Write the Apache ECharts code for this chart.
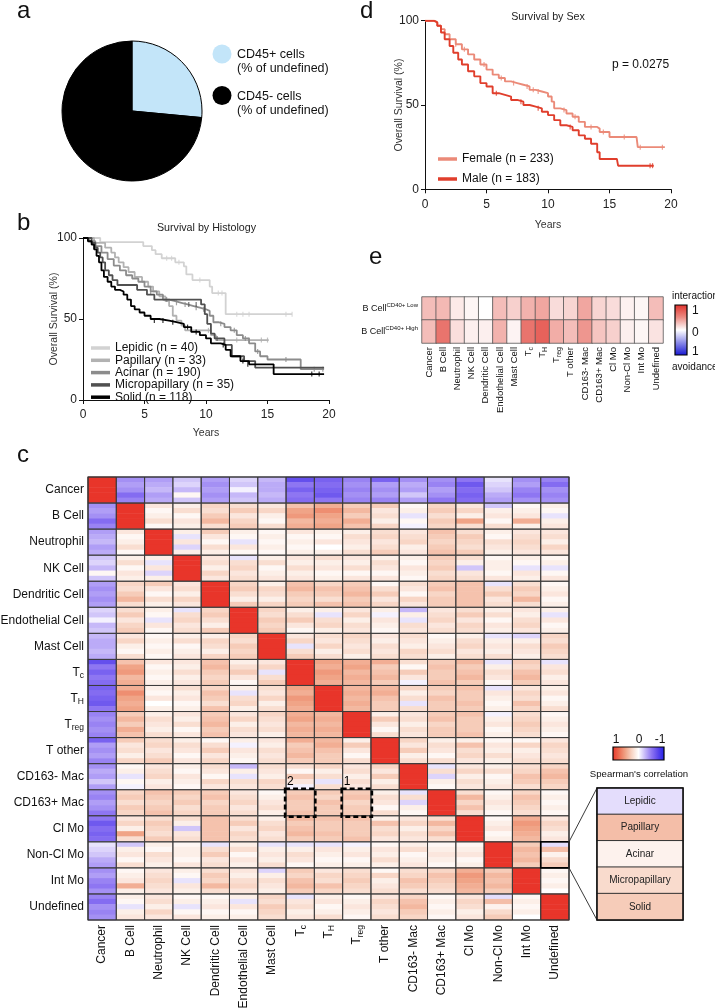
<!DOCTYPE html>
<html><head><meta charset="utf-8">
<script src="https://cdn.jsdelivr.net/npm/echarts@6/dist/echarts.min.js"></script>
<style>html,body{margin:0;padding:0;background:#fff}#main{width:715px;height:1008px}</style>
</head><body><div id="main"></div>
<script>
// ---------------- DATA ----------------
const pieNames = ['CD45+ cells', 'CD45- cells'];
const pieValues = [26.5, 73.5];
const pieColors = ['#c3e5f9', '#000000'];

const histLabels = ['Lepidic (n = 40)', 'Papillary (n = 33)', 'Acinar (n = 190)', 'Micropapillary (n = 35)', 'Solid (n = 118)'];
const histColors = ['#d2d2d2', '#b2b2b2', '#8c8c8c', '#505050', '#000000'];
const kmLepidic = [[0,100],[1.4,97.5],[4.9,95],[5.6,92.5],[5.9,90],[6.4,87.5],[7.5,85],[8.2,82.5],[8.4,77.5],[8.9,74],[10.3,70],[10.5,66],[11.6,53],[17,53]];
const kmPapillary = [[0,100],[0.9,97],[1.8,94],[2.3,91],[2.6,88],[2.9,85],[3.3,82],[3.7,79],[4.2,76],[4.8,73],[5.3,70],[5.7,67],[6.2,64],[6.7,61],[7.0,58],[7.3,52],[7.6,49],[8.0,46],[8.3,43],[10.4,40],[10.8,37],[15.1,37]];
const kmAcinar = [[0,100],[0.5,98],[1,95],[1.5,91],[2,87],[2.5,83],[3,80],[3.5,77],[4,75],[4.5,73],[5,70],[5.5,67],[6,65],[6.5,62],[7,61],[7.5,60],[8,59],[8.5,58],[9,57],[9.5,56],[10,55],[10.3,52],[10.6,48],[11,47],[11.5,45],[12,43],[12.5,40],[13,38],[13.5,35],[14,30],[14.4,27],[15,25],[17.4,25],[17.7,19],[19.6,19]];
const kmMicropap = [[0,100],[0.7,97],[1,94],[1.2,91],[1.4,88],[1.6,85],[1.8,80],[2.1,77],[2.4,74],[2.8,71],[4.4,68],[5.2,65],[5.8,62],[9.6,59],[9.9,53],[10.1,47],[10.4,41],[10.7,38],[11.5,34],[12.1,27],[13.1,24],[14,20],[19.6,20]];
const kmSolid = [[0,100],[0.4,98],[0.7,96],[0.9,93],[1.1,89],[1.3,85],[1.5,80],[1.7,76],[2,73],[2.3,70],[2.6,68],[3,67],[3.3,65],[3.6,62],[3.9,58],[4.2,56],[4.6,54],[5,52],[5.5,50],[6.2,49],[7,48],[7.6,47],[8.2,45],[8.8,42],[9.5,40],[10,38],[10.4,35],[11.2,34],[11.6,31],[12,27],[12.8,24],[13.5,22],[15.5,16],[19.6,16]];
const cenLepidic = [[6.8,87.5],[7.2,87.5],[7.8,85],[9.5,74],[11,66],[11.3,66],[12.5,53],[13,53],[13.5,53],[16.5,53],[17,53]];
const cenPapillary = [[10.2,43],[12.5,37],[13.5,37],[14.5,37],[15,37]];
const cenAcinar = [[5.5,67],[6.8,62],[7.6,60],[8.3,59],[9.2,57],[9.8,56],[11.2,47],[12.3,43],[13.2,38],[14.2,30],[16.5,25],[18.8,19],[19.5,19]];
const cenMicropap = [[8.6,59],[9.2,59],[10.9,38]];
const cenSolid = [[5.8,49],[6.5,49],[7.3,48],[8.5,45],[9.2,42],[11.4,34],[13,24],[13.4,22],[18.6,16],[19.2,16]];

const sexLabels = ['Female (n = 233)', 'Male (n = 183)'];
const sexColors = ['#eb8a78', '#e03e2c'];
const kmFemale = [[0,100],[0.8,99],[1,97],[1.3,95],[1.6,92],[2,89],[2.5,86],[3,83],[3.5,80],[4,77],[4.5,74],[5,71],[5.5,68],[6,66],[6.5,64],[7,63],[7.5,62],[8,61],[8.5,59],[9,58],[9.5,57],[10,55],[10.3,52],[10.5,48],[11,47],[11.5,45],[12,43],[12.5,40],[13,37],[14,36],[14.2,34],[15,31],[17.2,31],[17.3,25],[19.5,25]];
const kmMale = [[0,100],[0.7,99],[1,97],[1.3,93],[1.6,89],[2,85],[2.3,81],[2.7,77],[3,74],[3.5,70],[4,67],[4.5,63],[5,61],[5.5,57],[6,56],[6.5,55],[7,53],[7.5,52],[8,50],[8.5,49],[9,48],[9.5,46],[10,44],[10.5,41],[11,38],[11.5,37],[12,35],[12.5,32],[13,30],[13.5,27],[14,22],[14.2,18],[15.6,18],[15.7,14],[18.6,14]];
const cenFemale = [[2.5,86],[3.2,83],[4.8,74],[6.2,66],[7.2,63],[8.3,61],[8.8,59],[9.2,58],[11.3,47],[12.2,43],[13.5,37],[14.5,34],[16.2,31],[17.5,25],[19.3,25]];
const cenMale = [[5.8,57],[7.8,52],[9.2,48],[11.8,37],[18.3,14],[18.5,14]];
const pValueText = 'p = 0.0275';

const cellTypes = ['Cancer','B Cell','Neutrophil','NK Cell','Dendritic Cell','Endothelial Cell','Mast Cell','Tc','TH','Treg','T other','CD163- Mac','CD163+ Mac','Cl Mo','Non-Cl Mo','Int Mo','Undefined'];
const histologies = ['Lepidic','Papillary','Acinar','Micropapillary','Solid'];

// Panel e (interaction scores)
const eRows = ['Low', 'High'];
const interactionLow  = [0.28,0.30,0.09,0.04,0.0,0.28,0.20,0.33,0.38,0.15,0.18,0.38,0.18,0.15,0.06,0.04,0.28];
const interactionHigh = [0.28,0.62,0.14,0.07,0.07,0.33,0.05,0.62,0.72,0.35,0.28,0.45,0.25,0.20,0.07,0.04,0.12];

// Panel c: Spearman correlation, lower triangle; each cell = [Lepidic, Papillary, Acinar, Micropapillary, Solid]
const corr_BCell = [[-0.4,-0.35,-0.4,-0.55,-0.45]];
const corr_Neutrophil = [[-0.35,-0.3,-0.25,-0.35,-0.3],[0.15,0.05,0.1,0.2,0.05]];
const corr_NKCell = [[-0.2,-0.15,-0.25,0.05,-0.2],[0.1,0.2,0.05,0.15,0.1],[0.1,-0.1,0.15,-0.15,0.1]];
const corr_Dendritic = [[-0.35,-0.4,-0.35,-0.4,-0.35],[0.25,0.2,0.3,0.4,0.2],[0.3,0.15,0.05,0.2,0.1],[0.15,0.2,0.1,0.25,0.15]];
const corr_Endothelial = [[-0.15,-0.2,-0.05,-0.25,-0.2],[0.2,0.3,0.15,0.25,0.3],[0.1,0.05,-0.1,0.15,0.05],[-0.1,0.2,0.25,0.15,0.2],[0.25,0.3,0.2,0.1,0.3]];
const corr_Mast = [[-0.25,-0.3,-0.3,-0.25,-0.3],[0.15,0.25,0.1,0.05,0.2],[0.05,0.1,0.05,0.1,0.05],[0.1,0.2,0.05,0.1,0.15],[0.1,0.25,0.2,0.1,0.25],[0.25,0.2,0.3,0.25,0.3]];
const corr_Tc = [[-0.7,-0.5,-0.6,-0.5,-0.55],[0.35,0.5,0.55,0.4,0.45],[0.15,0.05,0.1,0.05,0.1],[0.15,0.1,0.2,0.1,0.15],[0.35,0.4,0.3,0.25,0.3],[0.1,0.2,0.3,0.15,0.05],[0.15,0.25,-0.1,0.2,0.3]];
const corr_TH = [[-0.6,-0.55,-0.6,-0.65,-0.5],[0.45,0.6,0.5,0.45,0.5],[0.1,0.05,0.15,0.0,0.1],[0.2,0.1,0.15,0.05,0.1],[0.25,0.35,0.3,0.2,0.35],[0.1,-0.1,0.2,0.25,0.1],[0.2,0.15,0.25,0.1,0.2],[0.5,0.45,0.55,0.5,0.45]];
const corr_Treg = [[-0.45,-0.4,-0.45,-0.4,-0.45],[0.3,0.4,0.3,0.45,0.35],[0.1,0.2,0.15,0.1,0.2],[0.15,0.1,0.2,0.05,0.15],[0.3,0.35,0.4,0.3,0.35],[0.15,0.25,0.1,0.2,0.15],[0.25,0.2,0.15,0.2,0.1],[0.45,0.5,0.4,0.45,0.4],[0.4,0.45,0.4,0.45,0.4]];
const corr_Tother = [[-0.6,-0.35,-0.4,-0.35,-0.45],[0.3,0.15,0.2,0.1,0.25],[0.2,0.25,0.15,0.2,0.3],[0.1,0.2,0.15,0.05,0.15],[0.05,0.2,0.3,0.15,0.25],[0.1,-0.05,0.15,0.1,0.05],[0.15,0.1,0.2,0.15,0.2],[0.45,0.3,0.35,0.4,0.3],[0.4,0.45,0.35,0.3,0.3],[0.1,0.3,0.15,0.05,0.2]];
const corr_CD163neg = [[-0.4,-0.3,-0.35,-0.2,-0.35],[0.05,0.1,-0.1,0.05,-0.05],[0.15,0.2,0.25,0.1,0.15],[0.1,0.05,0.15,0.1,0.05],[0.2,0.15,0.05,0.25,0.15],[-0.25,0.1,-0.1,0.2,0.15],[0.2,0.15,0.1,0.25,0.2],[0.2,0.05,0.3,0.15,-0.05],[0.25,0.1,0.2,-0.1,0.2],[0.15,0.2,0.1,0.2,0.15],[0.25,0.15,0.3,0.1,0.2]];
const corr_CD163pos = [[-0.4,-0.45,-0.35,-0.4,-0.5],[0.25,0.3,0.2,0.3,0.25],[0.35,0.3,0.25,0.3,0.35],[0.3,0.25,0.3,0.2,0.25],[0.3,0.35,0.25,0.3,0.3],[0.15,0.2,0.25,0.15,0.2],[0.05,0.1,0.15,0.2,0.1],[0.3,0.35,0.3,0.3,0.35],[0.3,0.25,0.35,0.3,0.3],[0.3,0.35,0.25,0.3,0.3],[0.1,0.2,0.15,0.05,0.2],[-0.1,0.2,-0.15,0.1,0.05]];
const corr_ClMo = [[-0.5,-0.65,-0.55,-0.6,-0.55],[0.15,0.25,0.1,0.5,0.2],[0.2,0.3,0.25,0.2,0.3],[0.2,0.1,-0.2,0.15,0.2],[0.35,0.35,0.35,0.35,0.35],[0.2,0.3,0.15,0.25,0.2],[0.1,0.2,0.25,0.15,0.2],[0.4,0.3,0.35,0.4,0.3],[0.35,0.3,0.3,0.35,0.3],[0.35,0.3,0.3,0.3,0.35],[0.1,0.35,0.2,0.25,0.15],[0.15,0.25,0.1,0.2,0.15],[0.2,0.4,0.25,0.35,0.2]];
const corr_NonClMo = [[-0.1,-0.15,-0.2,-0.3,-0.35],[-0.2,0.1,0.15,0.05,0.2],[0.1,0.05,0.2,0.15,0.1],[0.05,0.1,0.1,0.05,0.15],[-0.1,0.2,0.3,0.15,0.2],[0.1,0.2,0.05,0.15,0.1],[-0.1,0.1,0.15,0.1,0.2],[-0.1,0.1,0.2,0.15,0.05],[-0.1,0.15,0.1,0.05,0.1],[-0.05,0.1,0.15,0.05,0.1],[0.05,0.15,0.1,0.2,0.1],[0.1,0.2,0.05,0.1,0.15],[0.05,0.1,0.15,0.1,0.05],[0.05,0.1,0.15,0.05,0.1]];
const corr_IntMo = [[-0.4,-0.35,-0.45,-0.5,-0.4],[0.05,0.1,0.15,0.45,0.1],[0.15,0.2,0.25,0.2,0.15],[0.1,0.05,-0.1,0.15,0.1],[0.2,0.3,0.25,0.4,0.2],[0.15,0.1,0.2,0.25,0.15],[-0.15,0.1,0.2,0.15,0.1],[0.3,0.25,0.35,0.4,0.3],[0.15,0.25,0.2,0.35,0.25],[0.2,0.25,0.3,0.25,0.2],[0.05,0.25,0.1,0.15,0.2],[0.2,0.25,0.35,0.3,0.2],[0.25,0.35,0.3,0.25,0.2],[0.45,0.55,0.5,0.45,0.4],[0.3,0.4,0.35,0.4,0.3]];
const corr_Undefined = [[-0.45,-0.55,-0.4,-0.45,-0.4],[0.1,0.05,-0.1,0.1,0.15],[0.15,0.2,0.1,0.25,0.15],[0.05,0.1,-0.1,0.05,0.15],[0.05,0.1,0.15,0.05,0.1],[0.1,-0.1,0.15,0.05,0.1],[0.25,0.2,0.3,0.25,0.2],[-0.1,0.15,0.2,0.1,0.15],[0.1,0.15,0.05,0.1,0.2],[0.05,0.1,0.15,0.1,0.05],[0.15,0.25,0.2,0.15,0.2],[0.25,0.35,0.4,0.3,0.25],[0.05,0.1,0.05,0.1,0.05],[0.15,0.25,0.2,0.1,0.15],[-0.12,0.37,0.08,0.22,0.3],[0.05,0.1,0.05,0.1,0.0]];

const highlightBoxes = [[7, 12], [9, 12]];   // [column, row]
const highlightLabels = ['2', '1'];
const insetCell = [16, 14];                  // [column (Undefined), row (Non-Cl Mo)]

// ---------------- LAYOUT / STYLE ----------------
const FONT = "'Liberation Sans', Arial, Helvetica, sans-serif";
const HM = {left: 88, top: 477, width: 481, height: 443};
const INSET = {left: 597, top: 788, width: 86, height: 132};
const corrColors = ['#1f1fe6','#5a45ec','#8e76f2','#c6b8f8','#ffffff','#f8d6c6','#f0a487','#ec6c50','#e8352a'];
const eColors = ['#1414d2','#8a8ae8','#ffffff','#ec8a82','#e0302a'];

const corrLower = [[], corr_BCell, corr_Neutrophil, corr_NKCell, corr_Dendritic, corr_Endothelial, corr_Mast, corr_Tc, corr_TH, corr_Treg, corr_Tother, corr_CD163neg, corr_CD163pos, corr_ClMo, corr_NonClMo, corr_IntMo, corr_Undefined];
function corrCell(r, c) {
  if (r === c) return [1,1,1,1,1];
  return r > c ? corrLower[r][c] : corrLower[c][r];
}
function richName(n) {
  if (n === 'Tc') return 'T{sub|c}';
  if (n === 'TH') return 'T{sub|H}';
  if (n === 'Treg') return 'T{sub|reg}';
  return n;
}
const subRich = {sub: {fontSize: 8.5, padding: [7, 0, 0, 0], fontFamily: FONT, color: '#111'}};

const NS = histologies.length;
const hmY = [];
cellTypes.forEach(t => { for (let k = 0; k < NS; k++) hmY.push(t + '|' + k); });
const hmData = [];
for (let r = 0; r < cellTypes.length; r++)
  for (let c = 0; c < cellTypes.length; c++) {
    const v = corrCell(r, c);
    for (let k = 0; k < NS; k++) hmData.push([c, r * NS + k, v[k]]);
  }
const cellIdx = [];
for (let r = 0; r < cellTypes.length; r++) for (let c = 0; c < cellTypes.length; c++) cellIdx.push([c, r]);
const insetData = corrCell(insetCell[1], insetCell[0]).map((v, k) => [0, k, v]);
const eData = [];
interactionLow.forEach((v, i) => eData.push([i, 0, v]));
interactionHigh.forEach((v, i) => eData.push([i, 1, v]));

// ---------------- SERIES ----------------
const series = [];
const kmHist = [kmLepidic, kmPapillary, kmAcinar, kmMicropap, kmSolid];
const cenHist = [cenLepidic, cenPapillary, cenAcinar, cenMicropap, cenSolid];
kmHist.forEach((d, i) => series.push({type: 'line', name: histLabels[i], xAxisIndex: 0, yAxisIndex: 0, step: 'end', showSymbol: false, symbol: 'none', data: d, color: histColors[i], lineStyle: {width: 1.8, color: histColors[i]}, silent: true, z: 2 + i}));
cenHist.forEach((d, i) => series.push({type: 'scatter', name: 'c' + i, xAxisIndex: 0, yAxisIndex: 0, symbol: 'rect', symbolSize: [1.2, 5], data: d, itemStyle: {color: histColors[i]}, silent: true, z: 2 + i}));
[kmFemale, kmMale].forEach((d, i) => series.push({type: 'line', name: sexLabels[i], xAxisIndex: 1, yAxisIndex: 1, step: 'end', showSymbol: false, symbol: 'none', data: d, color: sexColors[i], lineStyle: {width: 1.9, color: sexColors[i]}, silent: true}));
[cenFemale, cenMale].forEach((d, i) => series.push({type: 'scatter', name: 's' + i, xAxisIndex: 1, yAxisIndex: 1, symbol: 'rect', symbolSize: [1.2, 5], data: d, itemStyle: {color: sexColors[i]}, silent: true}));
series.push({type: 'pie', center: [132, 111], radius: 70, startAngle: 90, clockwise: true, silent: true,
  label: {show: false}, labelLine: {show: false}, itemStyle: {borderColor: '#000', borderWidth: 1},
  data: pieNames.map((n, i) => ({name: n, value: pieValues[i], itemStyle: {color: pieColors[i]}}))});
const idxE = series.length;
series.push({type: 'heatmap', xAxisIndex: 2, yAxisIndex: 2, data: eData, silent: true,
  itemStyle: {borderColor: '#555', borderWidth: 0.8}});
const idxC = series.length;
series.push({type: 'heatmap', xAxisIndex: 3, yAxisIndex: 3, data: hmData, silent: true, progressive: 0});
function cellRect(api, c, r) {
  const p = api.coord([c, r * NS]);
  const s = api.size([1, 1]);
  return {x: p[0] - s[0] / 2, y: p[1] - s[1] / 2, w: s[0], h: s[1] * NS};
}
series.push({type: 'custom', xAxisIndex: 3, yAxisIndex: 3, data: cellIdx, silent: true, z: 5,
  renderItem: (params, api) => {
    const b = cellRect(api, api.value(0), api.value(1));
    return {type: 'rect', shape: {x: b.x, y: b.y, width: b.w, height: b.h}, style: {fill: 'none', stroke: '#3a3a3a', lineWidth: 0.9}};
  }});
series.push({type: 'custom', xAxisIndex: 3, yAxisIndex: 3, data: highlightBoxes, silent: true, z: 6,
  renderItem: (params, api) => {
    const b = cellRect(api, api.value(0), api.value(1));
    return {type: 'group', children: [
      {type: 'rect', shape: {x: b.x - 1, y: b.y - 1, width: b.w + 2, height: b.h + 2}, style: {fill: 'none', stroke: '#000', lineWidth: 2.5, lineDash: [5, 3]}},
      {type: 'text', style: {text: highlightLabels[params.dataIndex], x: b.x + 1, y: b.y - 2, fill: '#000', font: '12px ' + FONT, verticalAlign: 'bottom', textVerticalAlign: 'bottom'}}
    ]};
  }});
series.push({type: 'custom', xAxisIndex: 3, yAxisIndex: 3, data: [insetCell], silent: true, z: 6,
  renderItem: (params, api) => {
    const b = cellRect(api, api.value(0), api.value(1));
    return {type: 'group', children: [
      {type: 'rect', shape: {x: b.x, y: b.y, width: b.w, height: b.h}, style: {fill: 'none', stroke: '#000', lineWidth: 1.6}},
      {type: 'line', shape: {x1: b.x + b.w, y1: b.y, x2: INSET.left, y2: INSET.top}, style: {stroke: '#222', lineWidth: 0.9}},
      {type: 'line', shape: {x1: b.x + b.w, y1: b.y + b.h, x2: INSET.left, y2: INSET.top + INSET.height}, style: {stroke: '#222', lineWidth: 0.9}}
    ]};
  }});
const idxInset = series.length;
series.push({type: 'heatmap', xAxisIndex: 4, yAxisIndex: 4, data: insetData, silent: true,
  itemStyle: {borderColor: '#333', borderWidth: 1},
  label: {show: true, formatter: p => histologies[p.value[1]], fontSize: 10, color: '#222', fontFamily: FONT}});

// ---------------- AXES ----------------
const axLine = {lineStyle: {color: '#111', width: 1}};
const axTick = {length: 4, lineStyle: {color: '#111', width: 1}};
const axLabel = {fontSize: 12, color: '#222', fontFamily: FONT};
const xAxis = [
  {gridIndex: 0, type: 'value', min: 0, max: 20, interval: 5, axisLine: axLine, axisTick: axTick, splitLine: {show: false},
   axisLabel: Object.assign({margin: 9}, axLabel), name: 'Years', nameLocation: 'middle', nameGap: 28, nameMoveOverlap: false, nameTextStyle: {fontSize: 10.5, color: '#333', fontFamily: FONT}},
  {gridIndex: 1, type: 'value', min: 0, max: 20, interval: 5, axisLine: axLine, axisTick: axTick, splitLine: {show: false},
   axisLabel: Object.assign({margin: 9}, axLabel), name: 'Years', nameLocation: 'middle', nameGap: 30, nameMoveOverlap: false, nameTextStyle: {fontSize: 10.5, color: '#333', fontFamily: FONT}},
  {gridIndex: 2, type: 'category', data: cellTypes, axisLine: {show: false}, axisTick: {show: false}, splitLine: {show: false},
   axisLabel: {rotate: 90, interval: 0, margin: 4, fontSize: 9.5, color: '#111', fontFamily: FONT, formatter: richName,
     rich: {sub: {fontSize: 7, padding: [5, 0, 0, 0], fontFamily: FONT, color: '#111'}}}},
  {gridIndex: 3, type: 'category', data: cellTypes, axisLine: {show: false}, axisTick: {show: false}, splitLine: {show: false},
   axisLabel: {rotate: 90, interval: 0, margin: 5, fontSize: 12, color: '#111', fontFamily: FONT, formatter: richName, rich: subRich}},
  {gridIndex: 4, type: 'category', data: ['cell'], show: false}
];
const yAxis = [
  {gridIndex: 0, type: 'value', min: 0, max: 100, interval: 50, axisLine: Object.assign({show: true}, axLine), axisTick: Object.assign({show: true}, axTick), splitLine: {show: false},
   axisLabel: Object.assign({margin: 6}, axLabel), name: 'Overall Survival (%)', nameLocation: 'middle', nameGap: 23, nameMoveOverlap: false, nameRotate: 90, nameTextStyle: {fontSize: 10.5, color: '#333', fontFamily: FONT}},
  {gridIndex: 1, type: 'value', min: 0, max: 100, interval: 50, axisLine: Object.assign({show: true}, axLine), axisTick: Object.assign({show: true}, axTick), splitLine: {show: false},
   axisLabel: Object.assign({margin: 6}, axLabel), name: 'Overall Survival (%)', nameLocation: 'middle', nameGap: 20, nameMoveOverlap: false, nameRotate: 90, nameTextStyle: {fontSize: 10.5, color: '#333', fontFamily: FONT}},
  {gridIndex: 2, type: 'category', data: eRows, inverse: true, axisLine: {show: false}, axisTick: {show: false}, splitLine: {show: false},
   axisLabel: {margin: 4, fontSize: 9, color: '#111', fontFamily: FONT, formatter: v => 'B Cell{sup|CD40+ ' + v + '}',
     rich: {sup: {fontSize: 6, padding: [0, 0, 6, 0], fontFamily: FONT, color: '#111'}}}},
  {gridIndex: 3, type: 'category', data: hmY, inverse: true, axisLine: {show: false}, axisTick: {show: false}, splitLine: {show: false},
   axisLabel: {margin: 4, fontSize: 12, color: '#111', fontFamily: FONT, interval: (i) => i % NS === 2,
     formatter: v => richName(v.split('|')[0]), rich: subRich}},
  {gridIndex: 4, type: 'category', data: histologies, inverse: true, show: false}
];
const grid = [
  {left: 83, top: 238, width: 246, height: 162},
  {left: 425, top: 20.7, width: 246, height: 168.6},
  {left: 422, top: 297, width: 241, height: 46},
  {left: HM.left, top: HM.top, width: HM.width, height: HM.height},
  {left: INSET.left, top: INSET.top, width: INSET.width, height: INSET.height}
].map(g => Object.assign({containLabel: false, outerBoundsMode: 'none'}, g));

// ---------------- GRAPHIC (texts, colour bars) ----------------
function txt(text, x, y, size, o) {
  o = o || {};
  return {type: 'text', z: 100, silent: true, style: {text: text, x: x, y: y, fill: o.fill || '#111',
    font: (o.weight ? o.weight + ' ' : '') + size + 'px ' + FONT,
    align: o.align || 'left', textAlign: o.align || 'left',
    verticalAlign: o.va || 'middle', textVerticalAlign: o.va || 'middle'}};
}
function gradStops(cols) { return cols.map((c, i) => ({offset: i / (cols.length - 1), color: c})); }
const graphic = [
  txt('a', 17, 11, 24), txt('b', 17, 223, 24), txt('c', 17, 455, 24), txt('d', 360, 11, 24), txt('e', 369, 257, 24),
  // pie legend
  {type: 'circle', shape: {cx: 222, cy: 54, r: 9.5}, style: {fill: pieColors[0]}, silent: true},
  {type: 'circle', shape: {cx: 222, cy: 95.5, r: 9.5}, style: {fill: pieColors[1]}, silent: true},
  txt(pieNames[0], 237, 55, 12.5), txt('(% of undefined)', 237, 69, 12.5),
  txt(pieNames[1], 237, 97, 12.5), txt('(% of undefined)', 237, 111, 12.5),
  // titles
  txt('Survival by Histology', 206.5, 228, 10.7, {align: 'center', fill: '#222'}),
  txt('Survival by Sex', 548, 17.5, 10.7, {align: 'center', fill: '#222'}),
  txt(pValueText, 612, 65, 12, {fill: '#111'}),
  // colour bar c
  {type: 'rect', shape: {x: 613, y: 747, width: 51, height: 13}, silent: true,
   style: {fill: new echarts.graphic.LinearGradient(0, 0, 1, 0, gradStops(corrColors.slice().reverse())), stroke: '#000', lineWidth: 1.2}},
  txt('1', 616, 740, 12, {align: 'center'}), txt('0', 639, 740, 12, {align: 'center'}), txt('-1', 660, 740, 12, {align: 'center'}),
  txt("Spearman's correlation", 639, 774, 9.6, {align: 'center'}),
  // inset frame
  {type: 'rect', z: 100, silent: true, shape: {x: INSET.left, y: INSET.top, width: INSET.width, height: INSET.height}, style: {fill: 'none', stroke: '#111', lineWidth: 1.5}},
  // heatmap c outer frame
  {type: 'rect', z: 99, silent: true, shape: {x: HM.left, y: HM.top, width: HM.width, height: HM.height}, style: {fill: 'none', stroke: '#333', lineWidth: 1.2}},
  // colour bar e
  txt('interaction', 672, 296, 10),
  {type: 'rect', shape: {x: 675, y: 305, width: 12, height: 50}, silent: true,
   style: {fill: new echarts.graphic.LinearGradient(0, 0, 0, 1, gradStops(eColors.slice().reverse())), stroke: '#000', lineWidth: 1.2}},
  txt('1', 692, 311, 12), txt('0', 692, 333, 12), txt('1', 692, 352, 12),
  txt('avoidance', 672, 367, 10)
];

// ---------------- CHART ----------------
const chart = echarts.init(document.getElementById('main'), null, {renderer: 'canvas'});
chart.setOption({
  animation: false,
  backgroundColor: '#fff',
  textStyle: {fontFamily: FONT},
  grid: grid, xAxis: xAxis, yAxis: yAxis,
  legend: [
    {data: histLabels, orient: 'vertical', left: 86, top: 337, itemWidth: 19, itemHeight: 3.5, itemGap: 0.3, icon: 'rect', selectedMode: false,
     textStyle: {fontSize: 12, color: '#111', lineHeight: 12, fontFamily: FONT}},
    {data: sexLabels, orient: 'vertical', left: 433, top: 147, itemWidth: 19, itemHeight: 3.5, itemGap: 6, icon: 'rect', selectedMode: false,
     textStyle: {fontSize: 12, color: '#111', lineHeight: 14, fontFamily: FONT}}
  ],
  visualMap: [
    {type: 'continuous', show: false, min: -1, max: 1, seriesIndex: [idxC, idxInset], inRange: {color: corrColors}},
    {type: 'continuous', show: false, min: -1, max: 1, seriesIndex: [idxE], inRange: {color: eColors}}
  ],
  series: series,
  graphic: graphic
});
</script>
</body></html>
